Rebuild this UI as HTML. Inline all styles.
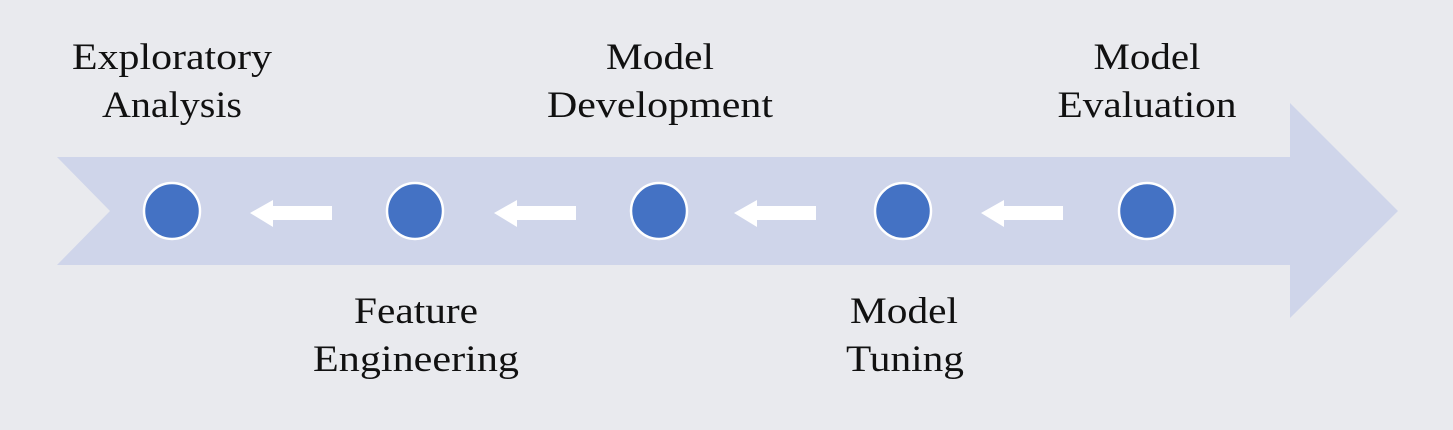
<!DOCTYPE html>
<html><head><style>
body{margin:0;width:1453px;height:425px;background:#e9eaee;overflow:hidden}
svg text{font-family:"Liberation Serif",serif;font-size:37px;fill:#111;text-anchor:middle}
</style></head><body>
<svg width="1453" height="425" xmlns="http://www.w3.org/2000/svg">
<polygon points="57,157 1290,157 1290,103 1398,211 1290,318 1290,265 57,265 110,211" fill="#cfd5ea"/>
<g fill="#4472c4" stroke="#fff" stroke-width="2.5">
<circle cx="172" cy="211" r="28"/><circle cx="415" cy="211" r="28"/><circle cx="659" cy="211" r="28"/><circle cx="903" cy="211" r="28"/><circle cx="1147" cy="211" r="28"/>
</g>
<g fill="#fff">
<polygon points="250,213 273,200 273,206 332,206 332,220 273,220 273,227"/>
<polygon points="494,213 517,200 517,206 576,206 576,220 517,220 517,227"/>
<polygon points="734,213 757,200 757,206 816,206 816,220 757,220 757,227"/>
<polygon points="981,213 1004,200 1004,206 1063,206 1063,220 1004,220 1004,227"/>
</g>
<text x="172" y="69" textLength="200" lengthAdjust="spacingAndGlyphs">Exploratory</text><text x="172" y="117" textLength="140" lengthAdjust="spacingAndGlyphs">Analysis</text>
<text x="660" y="69" textLength="108" lengthAdjust="spacingAndGlyphs">Model</text><text x="660" y="117" textLength="226" lengthAdjust="spacingAndGlyphs">Development</text>
<text x="1147" y="69" textLength="107" lengthAdjust="spacingAndGlyphs">Model</text><text x="1147" y="117" textLength="179" lengthAdjust="spacingAndGlyphs">Evaluation</text>
<text x="416" y="323" textLength="124" lengthAdjust="spacingAndGlyphs">Feature</text><text x="416" y="371" textLength="206" lengthAdjust="spacingAndGlyphs">Engineering</text>
<text x="904" y="323" textLength="108" lengthAdjust="spacingAndGlyphs">Model</text><text x="905" y="371" textLength="118" lengthAdjust="spacingAndGlyphs">Tuning</text>
</svg>
</body></html>
